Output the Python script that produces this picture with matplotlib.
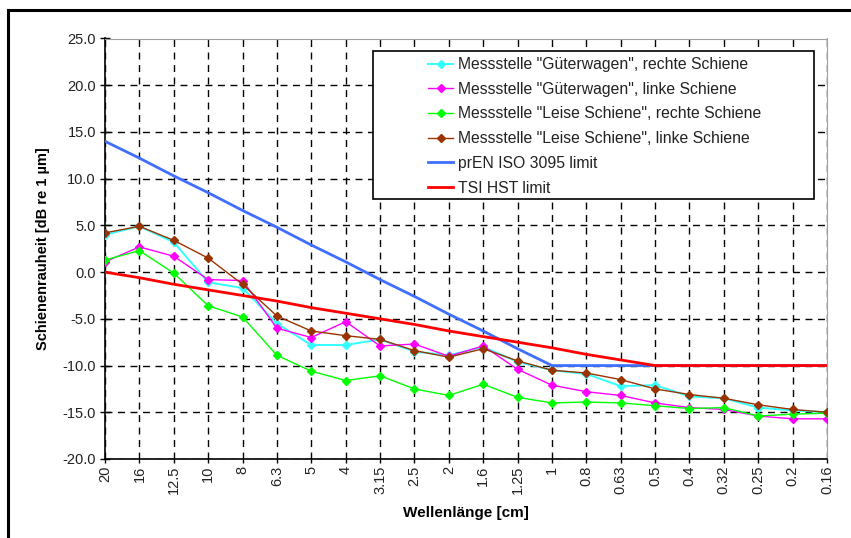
import matplotlib
matplotlib.use("Agg")
import matplotlib.pyplot as plt
from matplotlib.lines import Line2D
from matplotlib.patches import Rectangle

plt.rcParams['font.family'] = ['Liberation Sans', 'DejaVu Sans']

categories = ["20", "16", "12.5", "10", "8", "6.3", "5", "4", "3.15", "2.5", "2",
              "1.6", "1.25", "1", "0.8", "0.63", "0.5", "0.4", "0.32", "0.25", "0.2", "0.16"]

gueter_rechts = [4.0, 4.9, 3.2, -1.1, -1.7, -5.5, -7.8, -7.8, -7.2, -8.5, -8.9,
                 -8.0, -9.6, -10.5, -10.9, -12.2, -12.1, -13.3, -13.5, -14.5, -14.8, -15.0]
gueter_links = [1.1, 2.7, 1.7, -0.8, -0.9, -6.0, -7.0, -5.3, -7.9, -7.7, -9.0,
                -7.9, -10.4, -12.1, -12.8, -13.2, -14.0, -14.5, -14.7, -15.4, -15.7, -15.7]
leise_rechts = [1.3, 2.3, -0.1, -3.6, -4.8, -8.9, -10.6, -11.6, -11.1, -12.5, -13.2,
                -12.0, -13.4, -14.0, -13.9, -14.0, -14.3, -14.6, -14.5, -15.4, -15.2, -15.1]
leise_links = [4.2, 4.9, 3.4, 1.5, -1.3, -4.7, -6.3, -6.8, -7.2, -8.4, -9.1,
               -8.2, -9.5, -10.5, -10.8, -11.5, -12.5, -13.1, -13.5, -14.2, -14.7, -15.0]
iso_limit = [14.0, 12.2, 10.3, 8.5, 6.6, 4.8, 2.9, 1.1, -0.8, -2.6, -4.5,
             -6.3, -8.2, -10.0, -10.0, -10.0, -10.0, -10.0, -10.0, -10.0, -10.0, -10.0]
tsi_limit = [0.0, -0.6, -1.3, -1.9, -2.5, -3.1, -3.8, -4.4, -5.0, -5.6, -6.3,
             -6.9, -7.5, -8.1, -8.8, -9.4, -10.0, -10.0, -10.0, -10.0, -10.0, -10.0]

yticks = [25, 20, 15, 10, 5, 0, -5, -10, -15, -20]

W, H = 851, 538
fig = plt.figure(figsize=(W / 100, H / 100), dpi=100)
ax = fig.add_axes([105 / W, 1 - 459 / H, (827 - 105) / W, (459 - 38.5) / H])

x = list(range(len(categories)))

series = [
    (gueter_rechts, '#33FFFF', 'Messstelle "Güterwagen", rechte Schiene', 1.4),
    (gueter_links, '#FF00FF', 'Messstelle "Güterwagen", linke Schiene', 1.0),
    (leise_rechts, '#00FF00', 'Messstelle "Leise Schiene", rechte Schiene', 1.0),
    (leise_links, '#993300', 'Messstelle "Leise Schiene", linke Schiene', 1.0),
]
handles = []
for vals, col, lab, lw in series:
    h, = ax.plot(x, vals, color=col, lw=lw, marker='D', ms=4.5, mec=col, mfc=col,
                 label=lab, zorder=3)
    handles.append(h)
h, = ax.plot(x, iso_limit, color='#3F6FFF', lw=2.0, label='prEN ISO 3095 limit', zorder=3)
handles.append(h)
h, = ax.plot(x, tsi_limit, color='#FF0000', lw=2.0, label='TSI HST limit', zorder=3)
handles.append(h)

ax.set_xlim(0, len(categories) - 1)
ax.set_ylim(-20, 25)
ax.set_xticks(x)
ax.set_xticklabels(categories, rotation=90, fontsize=10.5)
ax.set_yticks(yticks)
ax.set_yticklabels([f"{v:.1f}" for v in yticks], fontsize=10.5)
ax.tick_params(axis='y', direction='inout', length=7, width=1, pad=3, colors='black')
ax.tick_params(axis='x', direction='out', length=3, width=1, pad=2)
for lab in ax.get_yticklabels() + ax.get_xticklabels():
    lab.set_color('#222222')

ax.grid(True, color='black', linestyle=(0, (5, 4)), linewidth=1.0, zorder=1)
ax.set_axisbelow(True)

ax.spines['left'].set_color('black')
ax.spines['bottom'].set_color('black')
ax.spines['left'].set_linewidth(1.2)
ax.spines['bottom'].set_linewidth(1.2)
ax.spines['top'].set_color('#A0A0A0')
ax.spines['right'].set_color('#A0A0A0')

ax.set_ylabel('Schienenrauheit [dB re 1 µm]', fontsize=10.5, fontweight='bold', labelpad=9)
ax.set_xlabel('Wellenlänge [cm]', fontsize=11, fontweight='bold', labelpad=8)

# legend box
box = Rectangle((373 / W, 1 - 199 / H), (814 - 373) / W, (199 - 51) / H,
                transform=fig.transFigure, facecolor='white', edgecolor='black',
                lw=1.2, zorder=4)
fig.patches.append(box)
leg = fig.legend(handles=handles, loc='upper left',
                 bbox_to_anchor=(428 / W, 1 - 57 / H), frameon=False,
                 fontsize=11.3, handlelength=1.6, handletextpad=0.32,
                 labelspacing=0.62, borderpad=0, borderaxespad=0, markerscale=0.8)
leg.set_zorder(5)
for t in leg.get_texts():
    t.set_color('#222222')

# outer frame (top and left)
fig.add_artist(Line2D([8 / W, 8 / W], [0, 1 - 9.5 / H], transform=fig.transFigure,
                      color='black', lw=2.2))
fig.add_artist(Line2D([8 / W, 1], [1 - 9.5 / H, 1 - 9.5 / H], transform=fig.transFigure,
                      color='black', lw=2.2))

fig.savefig('out.png', dpi=100)
